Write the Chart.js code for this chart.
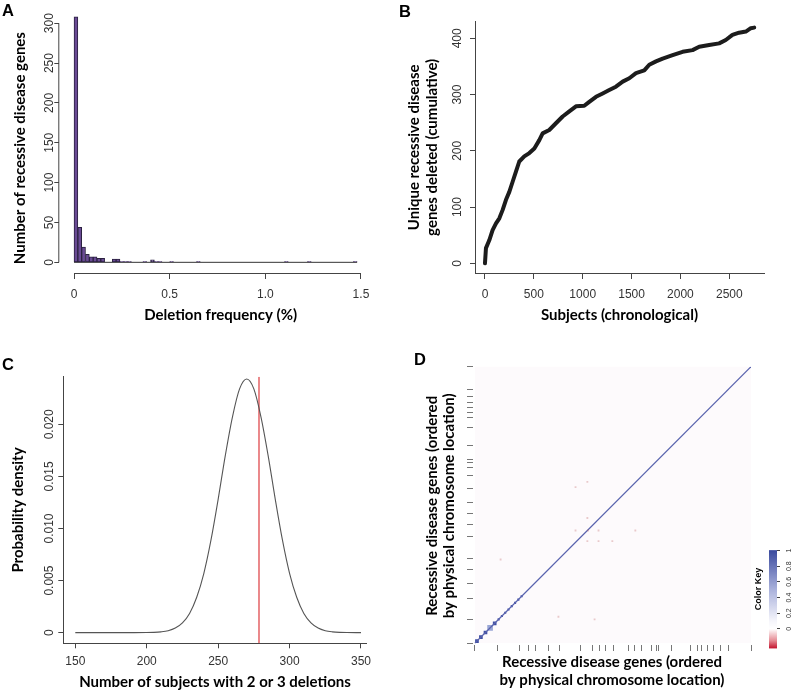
<!DOCTYPE html>
<html>
<head>
<meta charset="utf-8">
<script src="https://cdn.jsdelivr.net/npm/chart.js@4.4.1/dist/chart.umd.min.js"></script>
<style>
  html, body { margin: 0; padding: 0; background: #fff; }
  #fig { position: relative; width: 792px; height: 692px; overflow: hidden; }
  canvas { position: absolute; }
  .lbl { position: absolute; font: bold 16.5px "Liberation Sans", Arial, sans-serif; line-height: 1; color: #000; }
</style>
</head>
<body>
<div id="fig">
  <canvas id="cA" width="396" height="330" style="left:0;top:0"></canvas>
  <canvas id="cB" width="396" height="330" style="left:396px;top:0"></canvas>
  <canvas id="cC" width="396" height="362" style="left:0;top:330px"></canvas>
  <canvas id="cD" width="360" height="362" style="left:396px;top:330px"></canvas>
  <canvas id="cKey" width="130" height="42" style="left:706px;top:567.5px;transform:rotate(-90deg)"></canvas>
  <div class="lbl" style="left:2px;top:1.5px">A</div>
  <div class="lbl" style="left:399px;top:2.5px">B</div>
  <div class="lbl" style="left:2px;top:356px">C</div>
  <div class="lbl" style="left:414px;top:350.5px">D</div>
</div>
<script>
/* ---- A: histogram częstości delecji (kosze po 0.02 %) ---- */
const binWidthA = 0.02;
const deletionCounts = [
    308, 44, 19, 10, 7, 7, 5, 5, 0, 0,
    4, 4, 1, 1, 1, 0, 0, 0, 1, 0,
    3, 1, 1, 0, 0, 1, 0, 0, 0, 0,
    0, 0, 1, 0, 0, 0, 0, 0, 0, 0,
    0, 0, 0, 0, 0, 0, 0, 0, 0, 0,
    0, 0, 0, 0, 0, 1, 0, 0, 0, 0,
    0, 1, 0, 0, 0, 0, 0, 0, 0, 0,
    0, 0, 0, 1
];
const xTicksA = [0, 0.5, 1, 1.5];
const xTickLabelsA = ["0", "0.5", "1.0", "1.5"];
const yTicksA = [0, 50, 100, 150, 200, 250, 300];
const yTickLabelsA = ["0", "50", "100", "150", "200", "250", "300"];

/* ---- B: skumulowana liczba unikalnych genów ---- */
const subjectsB = [0, 10, 44, 78, 113, 147, 181, 215, 249, 283, 317, 351, 402, 454, 505, 556, 590, 658,
    726, 795, 863, 931, 1016, 1067, 1136, 1204, 1272, 1340, 1409, 1477, 1545, 1630, 1681, 1750, 1818,
    1920, 2022, 2124, 2192, 2294, 2396, 2464, 2532, 2600, 2669, 2720, 2755];
const uniqueGenesB = [0, 27, 41, 59, 71, 80, 95, 113, 127, 145, 163, 181, 190, 196, 204, 219, 231, 237,
    249, 261, 270, 279, 280, 287, 296, 302, 308, 314, 323, 329, 338, 343, 353, 359, 364,
    370, 376, 379, 385, 388, 391, 397, 406, 410, 412, 418, 419];
const xTicksB = [0, 500, 1000, 1500, 2000, 2500];
const yTicksB = [0, 100, 200, 300, 400];
const yTickLabelsB = ["0", "100", "200", "300", "400"];

/* ---- C: gęstość prawdopodobieństwa ---- */
const subjectsC = [150, 160, 170, 180, 190, 200, 205, 210, 215, 220, 225, 230, 235, 240, 245, 250, 255,
    260, 265, 270, 275, 280, 285, 290, 295, 300, 305, 310, 315, 320, 325, 330, 335, 340, 350];
const densityC = [0, 0, 0, 0, 0.000001, 0.00001, 0.00003, 0.00008, 0.00019, 0.00044, 0.00094, 0.00185,
    0.0034, 0.0057, 0.0089, 0.0128, 0.0170, 0.0207, 0.0234, 0.02435, 0.0234, 0.0207, 0.0170, 0.0128,
    0.0089, 0.0057, 0.0034, 0.00185, 0.00094, 0.00044, 0.00019, 0.00008, 0.00003, 0.00001, 0];
const observedC = 278.6;
const xTicksC = [150, 200, 250, 300, 350];
const yTicksC = [0, 0.005, 0.010, 0.015, 0.020];
const yTickLabelsC = ["0", "0.005", "0.010", "0.015", "0.020"];

/* ---- D: macierz korelacji genów ---- */
const nGenes = 420;
const xChromTicks = [0, 34, 68, 81, 92, 112, 128, 161, 179, 189, 198, 211, 233, 243, 254, 269, 276, 279,
    299, 328, 338, 345, 354, 363, 373, 386, 420];
const yChromTicks = [0, 36, 68, 91, 112, 129, 162, 180, 197, 214, 235, 255, 267, 275, 279, 300, 328, 343,
    351, 358, 366, 375, 386, 420];
const strongBlocks = [3, 9, 16, 30];
const paleBlocks = [23];
const smallBlocks = [36, 41, 46, 51, 56, 61, 66, 71];
const faintX = [171, 153, 172, 188, 244, 171, 188, 209, 153, 171, 127, 182, 39];
const faintY = [190, 171, 171, 171, 171, 155, 155, 155, 237, 245, 40, 36, 127];
const keyTicks = [0, 0.2, 0.4, 0.6, 0.8, 1];
const keyTickLabels = ["0", "0.2", "0.4", "0.6", "0.8", "1"];
const keyRange = [-0.25, 1];

const keyStops = [-0.25, -0.15, 0, 0.1, 0.5, 1];
const keyColors = ["#c3122c", "#e58a93", "#ffffff", "#f5f5fb", "#aab2dc", "#3a4a9e"];

Chart.defaults.font.family = "'Liberation Sans', Arial, sans-serif";
Chart.defaults.color = "#333";

const tickSize = 12;
const tickFont = { size: tickSize };
const tickCol = "#333";
const titleFont = { family: "Lato", size: 15, weight: "bold", lineHeight: 1.2 };
const axisCol = "#444";

// linie osi jak w R (tylko od pierwszego do ostatniego ticka)
const rAxisLines = {
    id: "rAxisLines",
    afterDraw(chart, args, opts) {
        const ctx = chart.ctx;
        ctx.save();
        ctx.strokeStyle = axisCol;
        ctx.lineWidth = 1;
        (opts.lines || []).forEach(([id, from, to]) => {
            const s = chart.scales[id];
            ctx.beginPath();
            if (s.isHorizontal()) {
                const y = s.top + 0.5;
                ctx.moveTo(s.getPixelForValue(from), y);
                ctx.lineTo(s.getPixelForValue(to), y);
            } else {
                const x = s.right - 0.5;
                ctx.moveTo(x, s.getPixelForValue(from));
                ctx.lineTo(x, s.getPixelForValue(to));
            }
            ctx.stroke();
        });
        ctx.restore();
    }
};

// etykiety osi Y obrócone o 90° (styl R, las = 0)
const rotatedYLabels = {
    id: "rotatedYLabels",
    afterDraw(chart, args, opts) {
        if (!opts.labels) return;
        const s = chart.scales.y;
        const ctx = chart.ctx;
        ctx.save();
        ctx.font = `${tickSize}px 'Liberation Sans', Arial, sans-serif`;
        ctx.fillStyle = tickCol;
        ctx.textAlign = "center";
        ctx.textBaseline = "middle";
        s.ticks.forEach((t, i) => {
            ctx.save();
            ctx.translate(s.right - opts.gap, s.getPixelForValue(t.value));
            ctx.rotate(-Math.PI / 2);
            ctx.fillText(opts.labels[i], 0, 0);
            ctx.restore();
        });
        ctx.restore();
    }
};

// tło heatmapy
const heatBackground = {
    id: "heatBackground",
    beforeDatasetsDraw(chart, args, opts) {
        const { x, y } = chart.scales;
        const ctx = chart.ctx;
        ctx.save();
        ctx.fillStyle = opts.color;
        const x0 = x.getPixelForValue(0), x1 = x.getPixelForValue(nGenes);
        const y0 = y.getPixelForValue(0), y1 = y.getPixelForValue(nGenes);
        ctx.fillRect(x0, y1, x1 - x0, y0 - y1);
        ctx.restore();
    }
};

// gradient klucza kolorów liczony po ułożeniu skali
const keyGradient = {
    id: "keyGradient",
    afterLayout(chart) {
        const s = chart.scales.x;
        const first = keyStops[0], last = keyStops[keyStops.length - 1];
        const g = chart.ctx.createLinearGradient(s.getPixelForValue(first), 0, s.getPixelForValue(last), 0);
        keyStops.forEach((v, i) => g.addColorStop((v - first) / (last - first), keyColors[i]));
        chart.data.datasets[0].backgroundColor = g;
    }
};

const fixedTicks = arr => s => { s.ticks = arr.map(v => ({ value: v })); };

function xAxis(opts) {
    return {
        type: "linear", position: "bottom", offset: false,
        min: opts.min, max: opts.max,
        afterBuildTicks: fixedTicks(opts.ticks),
        afterFit: s => { s.height = opts.height; },
        ticks: {
            autoSkip: false, font: tickFont, color: tickCol, padding: opts.pad,
            callback: opts.labels ? (v, i) => opts.labels[i] : v => v
        },
        grid: { drawOnChartArea: false, offset: false, tickLength: opts.tl || 6, color: opts.tickCol || axisCol },
        border: { display: !!opts.border, color: axisCol },
        title: { display: true, text: opts.title, font: opts.titleFont || titleFont, color: "#000", padding: { top: 0, bottom: opts.tpad } }
    };
}

function yAxis(opts) {
    return {
        type: "linear", position: "left",
        min: opts.min, max: opts.max,
        afterBuildTicks: fixedTicks(opts.ticks),
        afterFit: s => { s.width = opts.width; },
        ticks: { autoSkip: false, padding: 0, callback: () => "" },
        grid: { drawOnChartArea: false, tickLength: opts.tl || 5, color: opts.tickCol || axisCol },
        border: { display: !!opts.border, color: axisCol },
        title: { display: true, text: opts.title, font: opts.titleFont || titleFont, color: "#000", padding: { top: opts.tpad, bottom: 0 } }
    };
}

const baseOpts = { responsive: false, animation: false, events: [] };

/* ---- A ---- */
new Chart(document.getElementById("cA"), {
    type: "bar",
    data: {
        datasets: [
            {
                data: deletionCounts.map((c, i) => ({ x: i * binWidthA + binWidthA / 2, y: c })),
                backgroundColor: "#694a94",
                borderColor: "#2b2140",
                borderWidth: 1,
                borderSkipped: false,
                barPercentage: 1,
                categoryPercentage: 1,
                clip: false
            },
            {
                type: "line",
                data: [{ x: 0, y: 0 }, { x: deletionCounts.length * binWidthA, y: 0 }],
                borderColor: "#333",
                borderWidth: 1,
                pointRadius: 0
            }
        ]
    },
    options: {
        ...baseOpts,
        layout: { padding: { left: 0, top: 23.2, right: 14, bottom: 0 } },
        plugins: { legend: { display: false }, tooltip: { enabled: false },
            rAxisLines: { lines: [["x", 0, 1.5], ["y", 0, 300]] },
            rotatedYLabels: { labels: yTickLabelsA, gap: 9.3 } },
        scales: {
            x: xAxis({ min: -0.077, max: 1.61, ticks: xTicksA, labels: xTickLabelsA, height: 57, pad: 8.5,
                title: "Deletion frequency (%)", tpad: 5.8 }),
            y: yAxis({ min: -13.4, max: 300, ticks: yTicksA, width: 59.3,
                title: "Number of recessive disease genes", tpad: 10.8 })
        }
    },
    plugins: [rAxisLines, rotatedYLabels]
});

/* ---- B ---- */
new Chart(document.getElementById("cB"), {
    type: "scatter",
    data: {
        datasets: [{
            data: subjectsB.map((x, i) => ({ x, y: uniqueGenesB[i] })),
            showLine: true,
            borderColor: "#1c1c1c",
            borderWidth: 4,
            borderCapStyle: "round",
            borderJoinStyle: "round",
            pointRadius: 0
        }]
    },
    options: {
        ...baseOpts,
        layout: { padding: { left: 0, top: 21.7, right: 28, bottom: 0 } },
        plugins: { legend: { display: false }, tooltip: { enabled: false },
            rotatedYLabels: { labels: yTickLabelsB, gap: 17.3 } },
        scales: {
            x: xAxis({ min: -102, max: 2855, ticks: xTicksB, height: 57, pad: 8.5, border: true,
                title: "Subjects (chronological)", tpad: 5.8 }),
            y: yAxis({ min: -17.2, max: 429.5, ticks: yTicksB, width: 79, border: true,
                title: ["Unique recessive disease", "genes deleted (cumulative)"],
                titleFont: { ...titleFont, lineHeight: 1.16 }, tpad: 9.6 })
        }
    },
    plugins: [rotatedYLabels]
});

/* ---- C ---- */
new Chart(document.getElementById("cC"), {
    type: "scatter",
    data: {
        datasets: [
            {
                data: subjectsC.map((x, i) => ({ x, y: densityC[i] })),
                showLine: true,
                borderColor: "#555",
                borderWidth: 1.1,
                pointRadius: 0,
                cubicInterpolationMode: "monotone"
            },
            {
                data: [{ x: observedC, y: -0.00102 }, { x: observedC, y: 0.02457 }],
                showLine: true,
                borderColor: "#e2575a",
                borderWidth: 1.4,
                pointRadius: 0
            }
        ]
    },
    options: {
        ...baseOpts,
        layout: { padding: { left: 0, top: 46.7, right: 29.3, bottom: 0 } },
        plugins: { legend: { display: false }, tooltip: { enabled: false },
            rotatedYLabels: { labels: yTickLabelsC, gap: 13.3 } },
        scales: {
            x: xAxis({ min: 141.6, max: 354, ticks: xTicksC, height: 48.7, pad: 5.9, tl: 5, border: true,
                title: "Number of subjects with 2 or 3 deletions", tpad: 1.1 }),
            y: yAxis({ min: -0.00102, max: 0.02457, ticks: yTicksC, width: 63.3,
                border: true, title: "Probability density", tpad: 8.8 })
        }
    },
    plugins: [rotatedYLabels]
});

/* ---- D ---- */
const diagPts = arr => arr.map(v => ({ x: v, y: v }));
const titleFontD = { ...titleFont, lineHeight: 1.17 };
new Chart(document.getElementById("cD"), {
    type: "scatter",
    data: {
        datasets: [
            {
                data: faintX.map((x, i) => ({ x, y: faintY[i] })),
                pointStyle: "rect", pointRadius: 1.3,
                backgroundColor: "rgba(190,90,90,0.3)", borderWidth: 0
            },
            {
                data: [{ x: 0, y: 0 }, { x: nGenes, y: nGenes }],
                showLine: true, borderColor: "#5862ad", borderWidth: 1.2, pointRadius: 0
            },
            {
                data: diagPts(paleBlocks),
                pointStyle: "rect", pointRadius: 4,
                backgroundColor: "#9aa6d6", borderWidth: 0
            },
            {
                data: diagPts(strongBlocks),
                pointStyle: "rect", pointRadius: 2.6,
                backgroundColor: "#3f4fa3", borderWidth: 0
            },
            {
                data: diagPts(smallBlocks),
                pointStyle: "rect", pointRadius: 1.5,
                backgroundColor: "#4a56a8", borderWidth: 0
            }
        ]
    },
    options: {
        ...baseOpts,
        layout: { padding: { left: 0, top: 36.7, right: 5, bottom: 0 } },
        plugins: { legend: { display: false }, tooltip: { enabled: false },
            heatBackground: { color: "#fdfafc" } },
        scales: {
            x: xAxis({ min: -3, max: nGenes, ticks: xChromTicks, labels: xChromTicks.map(() => ""),
                height: 47, pad: 0, tickCol: "#777", title: ["Recessive disease genes (ordered", "by physical chromosome location)"],
                titleFont: titleFontD, tpad: 3.25 }),
            y: yAxis({ min: -3, max: nGenes, ticks: yChromTicks, width: 77, tl: 6, tickCol: "#777",
                title: ["Recessive disease genes (ordered", "by physical chromosome location)"],
                titleFont: titleFontD, tpad: 27 })
        }
    },
    plugins: [heatBackground]
});

/* ---- klucz kolorów (rysowany poziomo, obrócony o -90°) ---- */
new Chart(document.getElementById("cKey"), {
    type: "bar",
    data: {
        labels: ["key"],
        datasets: [{
            data: [keyRange],
            barPercentage: 1,
            categoryPercentage: 1,
            borderWidth: 0,
            backgroundColor: "#ccc"
        }]
    },
    options: {
        ...baseOpts,
        indexAxis: "y",
        layout: { padding: { left: 5.5, top: 0, right: 5.3, bottom: 0 } },
        plugins: { legend: { display: false }, tooltip: { enabled: false } },
        scales: {
            x: {
                type: "linear", position: "bottom", min: -0.25, max: 1.27,
                afterBuildTicks: fixedTicks(keyTicks),
                afterFit: s => { s.height = 15; },
                ticks: { autoSkip: false, font: { size: 7 }, color: "#333", padding: 4.8,
                    callback: (v, i) => keyTickLabels[i] },
                grid: { drawOnChartArea: false, tickLength: 3, color: axisCol },
                border: { display: false }
            },
            x2: {
                type: "linear", position: "top", axis: "x", min: -0.25, max: 1.27,
                afterFit: s => { s.height = 19; },
                ticks: { display: false },
                grid: { display: false },
                border: { display: false },
                title: { display: true, text: "Color Key", color: "#000",
                    font: { size: 9, weight: "bold", lineHeight: 1.2 }, padding: { top: 3.5, bottom: 0 } }
            },
            y: { display: false }
        }
    },
    plugins: [keyGradient]
});
</script>
</body>
</html>
